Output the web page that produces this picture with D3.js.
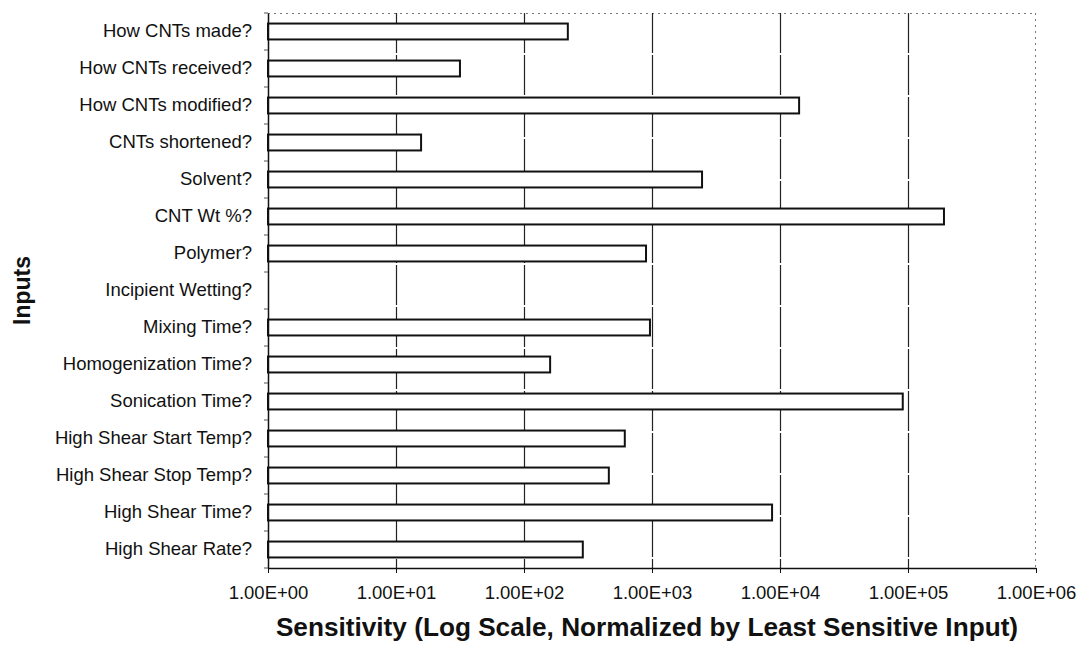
<!DOCTYPE html>
<html>
<head>
<meta charset="utf-8">
<script src="https://cdn.jsdelivr.net/npm/d3@7"></script>
<style>
  body { margin: 0; background: #fff; }
  text { font-family: "Liberation Sans", Arial, sans-serif; fill: #111; }
</style>
</head>
<body>
<div id="wrapper"></div>
<script>
const inputs = [
    "How CNTs made?", "How CNTs received?", "How CNTs modified?", "CNTs shortened?",
    "Solvent?", "CNT Wt %?", "Polymer?", "Incipient Wetting?", "Mixing Time?",
    "Homogenization Time?", "Sonication Time?", "High Shear Start Temp?",
    "High Shear Stop Temp?", "High Shear Time?", "High Shear Rate?"
];
const sensitivity = [220, 31.6, 14100, 15.7, 2460, 191000, 898, 1, 964, 160, 91000, 613, 460, 8670, 288];
const tickValues = [1e0, 1e1, 1e2, 1e3, 1e4, 1e5, 1e6];
const tickLabels = ["1.00E+00", "1.00E+01", "1.00E+02", "1.00E+03", "1.00E+04", "1.00E+05", "1.00E+06"];

const data = inputs.map((d, i) => ({ name: d, value: sensitivity[i] }));

let dimensions = {
    width: 1078,
    height: 645,
    margin: { top: 13, right: 42, bottom: 77, left: 268 },
};
dimensions.boundedWidth = dimensions.width - dimensions.margin.left - dimensions.margin.right;
dimensions.boundedHeight = dimensions.height - dimensions.margin.top - dimensions.margin.bottom;

const svg = d3.select("#wrapper").append("svg")
    .attr("width", dimensions.width)
    .attr("height", dimensions.height);

const bounds = svg.append("g")
    .attr("transform", `translate(${dimensions.margin.left},${dimensions.margin.top})`);

const xScale = d3.scaleLog()
    .domain([1, 1e6])
    .range([0, dimensions.boundedWidth]);

const yScale = d3.scaleBand()
    .domain(inputs)
    .range([0, dimensions.boundedHeight])
    .paddingInner(0.57)
    .paddingOuter(0.285);

// frame: dotted top and right
bounds.append("line")
    .attr("x1", 0).attr("x2", dimensions.boundedWidth)
    .attr("y1", 0.5).attr("y2", 0.5)
    .attr("stroke", "#777").attr("stroke-dasharray", "2,4");
bounds.append("line")
    .attr("x1", dimensions.boundedWidth - 0.5).attr("x2", dimensions.boundedWidth - 0.5)
    .attr("y1", 0).attr("y2", dimensions.boundedHeight)
    .attr("stroke", "#777").attr("stroke-dasharray", "2,4");

// gridlines
bounds.append("g")
    .selectAll("line")
    .data(tickValues.slice(1, -1))
    .join("line")
    .attr("x1", d => Math.round(xScale(d)) + 0.5)
    .attr("x2", d => Math.round(xScale(d)) + 0.5)
    .attr("y1", 0)
    .attr("y2", dimensions.boundedHeight)
    .attr("stroke", "#222")
    .attr("stroke-width", 1.2)
    .attr("stroke-dasharray", "40,2");

// bars
bounds.append("g")
    .selectAll("rect")
    .data(data.filter(d => d.value > 1))
    .join("rect")
    .attr("x", 0)
    .attr("y", d => yScale(d.name))
    .attr("width", d => xScale(d.value))
    .attr("height", yScale.bandwidth())
    .attr("fill", "#fff")
    .attr("stroke", "#111")
    .attr("stroke-width", 2);

// x axis
const xAxisGenerator = d3.axisBottom(xScale)
    .tickValues(tickValues)
    .tickFormat((d, i) => tickLabels[i])
    .tickSizeInner(5)
    .tickSizeOuter(0)
    .tickPadding(13);

const xAxis = bounds.append("g")
    .attr("transform", `translate(0,${dimensions.boundedHeight})`)
    .call(xAxisGenerator);
xAxis.select(".domain").attr("stroke", "#111").attr("stroke-width", 1.5);
xAxis.selectAll(".tick line").attr("stroke", "#111");
xAxis.selectAll(".tick text")
    .style("font-size", "18.5px")
    .style("font-family", "'Liberation Sans', Arial, sans-serif")
    .attr("fill", "#111");

// y axis
const yAxisGenerator = d3.axisLeft(yScale)
    .tickSize(0)
    .tickPadding(16);
const yAxis = bounds.append("g").call(yAxisGenerator);
yAxis.select(".domain").attr("stroke", "#111").attr("stroke-width", 1.5);
yAxis.selectAll(".tick text")
    .style("font-size", "18.5px")
    .style("font-family", "'Liberation Sans', Arial, sans-serif")
    .attr("fill", "#111");

// small ticks between categories
bounds.append("g")
    .selectAll("line")
    .data(d3.range(inputs.length + 1))
    .join("line")
    .attr("x1", -4).attr("x2", 0)
    .attr("y1", i => i * yScale.step())
    .attr("y2", i => i * yScale.step())
    .attr("stroke", "#555");

// axis titles
svg.append("text")
    .attr("x", 647)
    .attr("y", 636)
    .attr("text-anchor", "middle")
    .style("font-size", "26.2px")
    .style("font-weight", "bold")
    .text("Sensitivity (Log Scale, Normalized by Least Sensitive Input)");

svg.append("text")
    .attr("transform", `translate(30,${dimensions.margin.top + dimensions.boundedHeight / 2}) rotate(-90)`)
    .attr("text-anchor", "middle")
    .style("font-size", "23px")
    .style("font-weight", "bold")
    .text("Inputs");
</script>
</body>
</html>
